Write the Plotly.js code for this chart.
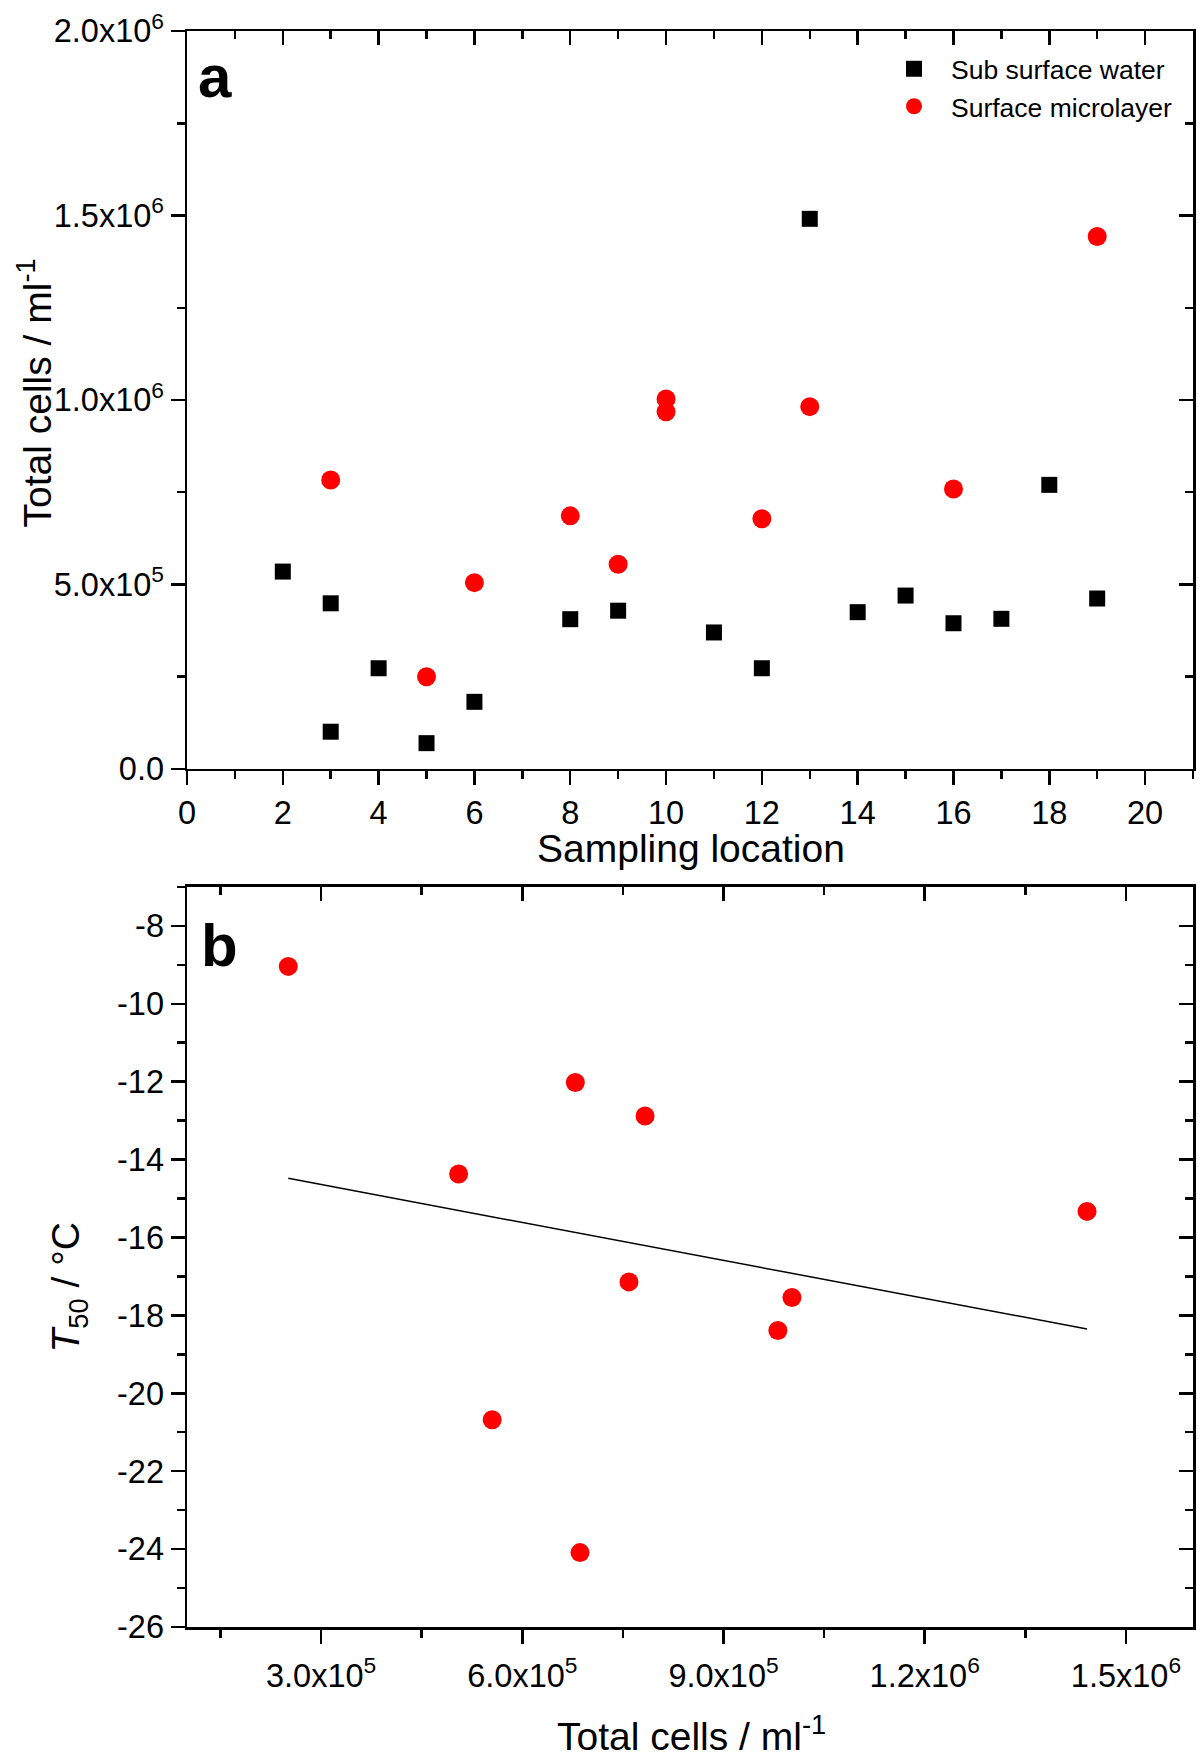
<!DOCTYPE html>
<html><head><meta charset="utf-8">
<script src="https://cdn.plot.ly/plotly-3.0.1.min.js"></script>
<style>html,body{margin:0;padding:0;background:#fff}</style>
</head><body>
<div id="chart" style="width:1197px;height:1759px"></div>
<script>
// ---- Panel a: total cells per sampling location ----
const subLocation = [2, 3, 3, 4, 5, 6, 8, 9, 11, 12, 13, 14, 15, 16, 17, 18, 19];
const subCells = [535000, 449000, 101000, 273000, 70000, 182000, 406000, 429000, 370000, 273000, 1491000, 425000, 470000, 395000, 407000, 770000, 462000];
const smlLocation = [3, 5, 6, 8, 9, 10, 10, 12, 13, 16, 19];
const smlCells = [783000, 250000, 505000, 686000, 555000, 1003000, 968000, 678000, 982000, 759000, 1443000];

// ---- Panel b: T50 vs total cells (surface microlayer) ----
const t50Cells = [251000, 505000, 679000, 783000, 1442000, 759000, 1002000, 981000, 555000, 686000];
const t50Values = [-9.04, -14.37, -12.02, -12.88, -15.33, -17.14, -17.54, -18.39, -20.68, -24.09];

// ---- tick labels ----
const cellTickVals = [0, 500000, 1000000, 1500000, 2000000];
const cellTickText = ['0.0', '5.0x10<sup>5</sup>', '1.0x10<sup>6</sup>', '1.5x10<sup>6</sup>', '2.0x10<sup>6</sup>'];
const bXTickVals = [300000, 600000, 900000, 1200000, 1500000];
const bXTickText = ['3.0x10<sup>5</sup>', '6.0x10<sup>5</sup>', '9.0x10<sup>5</sup>', '1.2x10<sup>6</sup>', '1.5x10<sup>6</sup>'];
const t50TickVals = [-26, -24, -22, -20, -18, -16, -14, -12, -10, -8];
const t50TickText = t50TickVals.map(String);

// least-squares fit line for panel b
const n = t50Cells.length;
const mx = t50Cells.reduce((a, b) => a + b, 0) / n;
const my = t50Values.reduce((a, b) => a + b, 0) / n;
let sxy = 0, sxx = 0;
for (let i = 0; i < n; i++) { sxy += (t50Cells[i] - mx) * (t50Values[i] - my); sxx += (t50Cells[i] - mx) ** 2; }
const slope = sxy / sxx, intercept = my - slope * mx;
const fitX = [Math.min(...t50Cells), Math.max(...t50Cells)];
const fitY = fitX.map(v => intercept + slope * v);

const FONT = 'Liberation Sans, Arial, Helvetica, sans-serif';
const LW = 2.5;
function ax(extra) {
  return Object.assign({
    showline: true, linecolor: '#000', linewidth: LW, showgrid: false, zeroline: false,
    ticks: 'outside', ticklen: 14, tickwidth: LW, tickcolor: '#000',
    tickfont: {family: FONT, size: 32.5, color: '#000'}, fixedrange: true
  }, extra);
}
function minor(dtick, tick0, dir) {
  return {dtick: dtick, tick0: tick0, ticks: dir, ticklen: 8, tickwidth: LW, tickcolor: '#000'};
}

const domA = [0.5376, 1];
const domB = [0, 0.4637];

const traces = [
  {type: 'scatter', mode: 'markers', name: 'Sub surface water', x: subLocation, y: subCells,
   marker: {symbol: 'square', size: 16, color: '#000000'}, xaxis: 'x', yaxis: 'y'},
  {type: 'scatter', mode: 'markers', name: 'Surface microlayer', x: smlLocation, y: smlCells,
   marker: {symbol: 'circle', size: 19, color: '#ff0000'}, xaxis: 'x', yaxis: 'y'},
  {type: 'scatter', mode: 'markers', x: t50Cells, y: t50Values, showlegend: false,
   marker: {symbol: 'circle', size: 19, color: '#ff0000'}, xaxis: 'x2', yaxis: 'y2'},
  {type: 'scatter', mode: 'lines', x: fitX, y: fitY, showlegend: false,
   line: {color: '#000', width: 1.5}, xaxis: 'x2', yaxis: 'y2'},
  // empty traces to create the mirrored (top/right) axes
  {type: 'scatter', x: [], y: [], showlegend: false, xaxis: 'x3', yaxis: 'y'},
  {type: 'scatter', x: [], y: [], showlegend: false, xaxis: 'x', yaxis: 'y3'},
  {type: 'scatter', x: [], y: [], showlegend: false, xaxis: 'x4', yaxis: 'y2'},
  {type: 'scatter', x: [], y: [], showlegend: false, xaxis: 'x2', yaxis: 'y4'}
];

const layout = {
  width: 1197, height: 1759,
  margin: {l: 187, r: 4, t: 31, b: 132},
  paper_bgcolor: '#fff', plot_bgcolor: 'rgba(0,0,0,0)',
  font: {family: FONT, color: '#000'},
  showlegend: true,
  legend: {x: 0.6859, y: 0.9912, xanchor: 'left', yanchor: 'top', bgcolor: 'rgba(0,0,0,0)', itemwidth: 64,
           font: {family: FONT, size: 26.5, color: '#000'}},
  xaxis: ax({anchor: 'y', domain: [0, 1], range: [0, 21], tickmode: 'linear', tick0: 0, dtick: 2,
             minor: minor(1, 0, 'outside')}),
  xaxis3: ax({overlaying: 'x', side: 'top', anchor: 'y', range: [0, 21], tickmode: 'linear', tick0: 0, dtick: 2,
              ticks: 'inside', showticklabels: false, minor: minor(1, 0, 'inside')}),
  yaxis: ax({anchor: 'x', domain: domA, range: [0, 2000000], tickmode: 'array', tickvals: cellTickVals, ticktext: cellTickText,
             minor: minor(250000, 0, 'outside')}),
  yaxis3: ax({overlaying: 'y', side: 'right', anchor: 'x', range: [0, 2000000], tickmode: 'array', tickvals: cellTickVals,
              ticks: 'inside', showticklabels: false, minor: minor(250000, 0, 'inside')}),
  xaxis2: ax({anchor: 'y2', domain: [0, 1], range: [100000, 1600000], tickmode: 'array', tickvals: bXTickVals, ticktext: bXTickText,
              ticklabelstandoff: 4, minor: minor(150000, 0, 'outside')}),
  xaxis4: ax({overlaying: 'x2', side: 'top', anchor: 'y2', range: [100000, 1600000], tickmode: 'array', tickvals: bXTickVals,
              ticks: 'inside', showticklabels: false, minor: minor(150000, 0, 'inside')}),
  yaxis2: ax({anchor: 'x2', domain: domB, range: [-26, -7], tickmode: 'array', tickvals: t50TickVals, ticktext: t50TickText,
              minor: minor(1, 0, 'outside')}),
  yaxis4: ax({overlaying: 'y2', side: 'right', anchor: 'x2', range: [-26, -7], tickmode: 'array', tickvals: t50TickVals,
              ticks: 'inside', showticklabels: false, minor: minor(1, 0, 'inside')}),
  annotations: [
    {text: 'Sampling location', xref: 'paper', yref: 'paper', x: 0.501, y: 0.4878, xanchor: 'center', yanchor: 'middle',
     showarrow: false, font: {family: FONT, size: 39, color: '#000'}},
    {text: 'Total cells / ml<sup>-1</sup>', xref: 'paper', yref: 'paper', x: -0.1516, y: 0.7732, xanchor: 'center', yanchor: 'middle',
     textangle: -90, showarrow: false, font: {family: FONT, size: 39, color: '#000'}},
    {text: 'Total cells / ml<sup>-1</sup>', xref: 'paper', yref: 'paper', x: 0.501, y: -0.0669, xanchor: 'center', yanchor: 'middle',
     showarrow: false, font: {family: FONT, size: 39, color: '#000'}},
    {text: '<i>T</i><sub>50</sub> / °C', xref: 'paper', yref: 'paper', x: -0.1178, y: 0.213, xanchor: 'center', yanchor: 'middle',
     textangle: -90, showarrow: false, font: {family: FONT, size: 39, color: '#000'}},
    {text: '<b>a</b>', xref: 'paper', yref: 'paper', x: 0.0278, y: 0.9718, xanchor: 'center', yanchor: 'middle',
     showarrow: false, font: {family: FONT, size: 60, color: '#000'}},
    {text: '<b>b</b>', xref: 'paper', yref: 'paper', x: 0.0328, y: 0.4273, xanchor: 'center', yanchor: 'middle',
     showarrow: false, font: {family: FONT, size: 60, color: '#000'}}
  ]
};

Plotly.newPlot('chart', traces, layout, {displayModeBar: false, staticPlot: true});
</script>
</body></html>
